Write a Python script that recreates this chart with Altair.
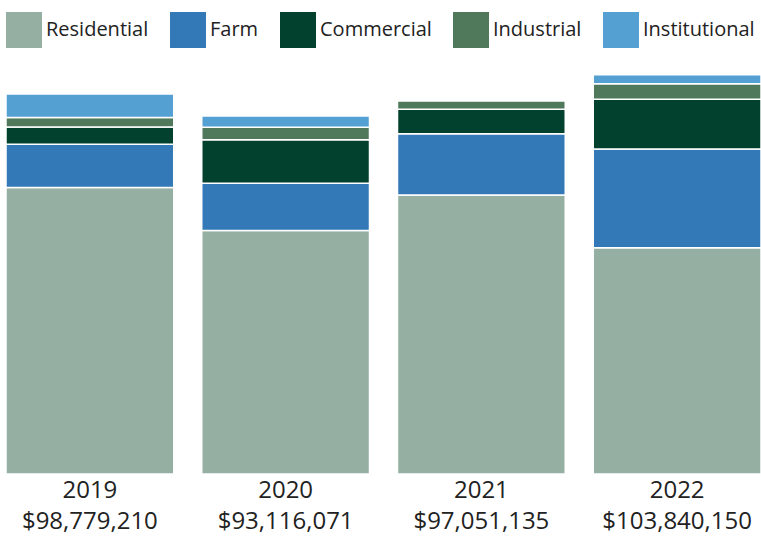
import altair as alt
import pandas as pd

years = ["2019", "2020", "2021", "2022"]
categories = ["Residential", "Farm", "Commercial", "Industrial", "Institutional"]
colors = ["#95afa3", "#3479b7", "#03412f", "#50795c", "#54a0d3"]

# values in millions of dollars
residential = [74.47, 63.32, 72.53, 58.83]
farm = [11.25, 12.25, 15.96, 25.70]
commercial = [4.53, 11.35, 6.36, 12.91]
industrial = [2.46, 3.22, 2.21, 4.04]
institutional = [6.08, 2.97, 0.0, 2.35]
totals = [98779210, 93116071, 97051135, 103840150]

series = [residential, farm, commercial, industrial, institutional]
rows = []
for ci, (cat, vals) in enumerate(zip(categories, series)):
    for y, v in zip(years, vals):
        rows.append({"year": y, "category": cat, "value": v, "order": ci})
df = pd.DataFrame(rows)

total_labels = [f"${t:,}" for t in totals]
expr = "''"
for y, t in reversed(list(zip(years, total_labels))):
    expr = f"datum.label == '{y}' ? ['{y}', '{t}'] : ({expr})"

FONT = "Open Sans"

chart = alt.Chart(df).mark_bar(stroke="white", strokeWidth=1.5).encode(
    x=alt.X("year:N", sort=years, title=None,
            scale=alt.Scale(paddingInner=0.143, paddingOuter=0),
            axis=alt.Axis(domain=False, ticks=False, labelAngle=0,
                          labelExpr=expr, labelFontSize=24, labelLineHeight=31,
                          labelPadding=4, labelColor="#222222", labelFont=FONT)),
    y=alt.Y("value:Q", stack="zero", axis=None,
            scale=alt.Scale(domain=[0, 106.08], nice=False, zero=True)),
    color=alt.Color("category:N", sort=categories,
                    scale=alt.Scale(domain=categories, range=colors),
                    legend=alt.Legend(orient="none", legendX=0, legendY=-54,
                                      direction="horizontal", title=None,
                                      symbolType="square", symbolSize=1296,
                                      symbolStrokeWidth=0, symbolOpacity=1,
                                      labelFontSize=20, labelFont=FONT,
                                      labelColor="#222222", labelOffset=4,
                                      columnPadding=21, padding=0,
                                      labelLimit=300)),
    order=alt.Order("order:Q", sort="ascending"),
).properties(
    width=755, height=408,
    autosize=alt.AutoSizeParams(type="none"),
    padding={"left": 6, "top": 66, "right": 0, "bottom": 62},
).configure_view(stroke=None)

chart.save("out.html", embed_options={"renderer": "svg", "actions": False})
